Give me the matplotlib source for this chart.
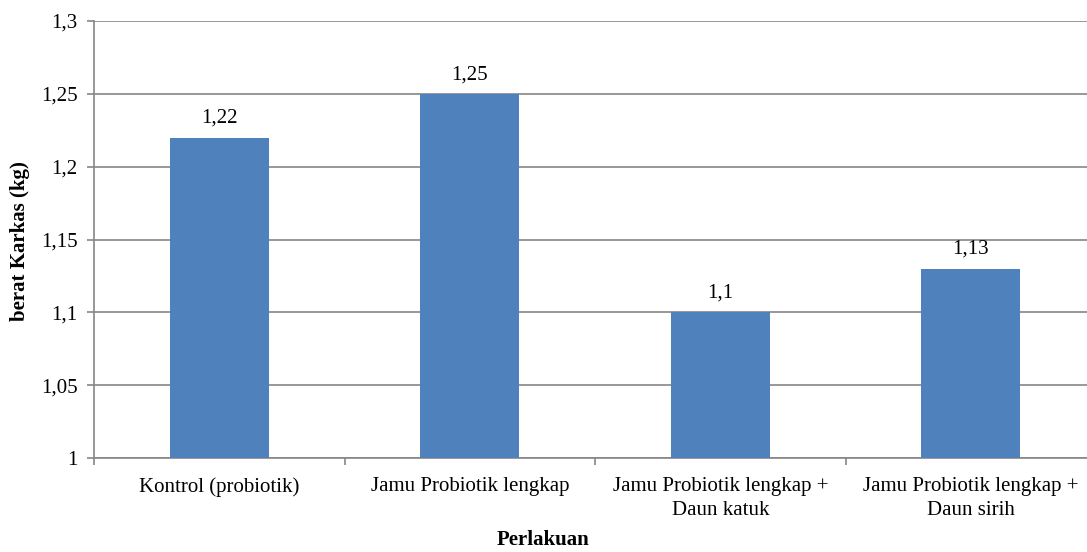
import matplotlib
matplotlib.use("Agg")
import matplotlib.pyplot as plt
from matplotlib.ticker import FixedLocator

plt.rcParams['font.family'] = 'serif'
plt.rcParams['font.serif'] = ['Liberation Serif', 'DejaVu Serif']
FAM = 'Liberation Serif'
FS = 15

categories = ["Kontrol (probiotik)", "Jamu Probiotik lengkap",
              "Jamu Probiotik lengkap +\nDaun katuk", "Jamu Probiotik lengkap +\nDaun sirih"]
values = [1.22, 1.25, 1.10, 1.13]
labels = ["1,22", "1,25", "1,1", "1,13"]
yticks = [1.0, 1.05, 1.1, 1.15, 1.2, 1.25, 1.3]
yticklabels = ["1", "1,05", "1,1", "1,15", "1,2", "1,25", "1,3"]

fig = plt.figure(figsize=(10.87, 5.52), dpi=100)
ax = fig.add_axes([94/1087, 1-458/552, (1096-94)/1087, (458-21)/552])

grid_color = "#868686"
x = list(range(len(categories)))
ax.bar(x, [v - 1.0 for v in values], bottom=1.0, width=0.395, color="#4F81BD", zorder=3)
for xi, v, lab in zip(x, values, labels):
    ax.annotate(lab, (xi, v), xytext=(0, 7), textcoords="offset points",
                ha="center", va="bottom", fontsize=FS, family=FAM)

ax.set_xlim(-0.5, len(categories) - 0.5)
ax.set_ylim(1.0, 1.3)
ax.set_yticks(yticks)
ax.set_yticklabels(yticklabels, fontsize=FS, family=FAM)
ax.yaxis.grid(True, color=grid_color, linewidth=1.2, zorder=0)
ax.set_xticks(x)
ax.set_xticklabels(categories, fontsize=FS, family=FAM, linespacing=1.3)
ax.xaxis.set_minor_locator(FixedLocator([i - 0.5 for i in range(len(categories) + 1)]))
ax.tick_params(axis='x', which='major', length=0, pad=14)
ax.tick_params(axis='x', which='minor', length=5, color=grid_color, width=1.2)
ax.tick_params(axis='y', length=5, color=grid_color, width=1.2, pad=7)

for s in ['top', 'right']:
    ax.spines[s].set_visible(False)
for s in ['left', 'bottom']:
    ax.spines[s].set_color(grid_color)
    ax.spines[s].set_linewidth(1.2)

fig.text(20/1087, 1-241/552, "berat Karkas (kg)", fontsize=FS, fontweight="bold", family=FAM,
         rotation=90, ha="center", va="center")
fig.text(543/1087, 1-540/552, "Perlakuan", fontsize=FS, fontweight="bold", family=FAM,
         ha="center", va="center")

fig.savefig("out.png", dpi=100)
